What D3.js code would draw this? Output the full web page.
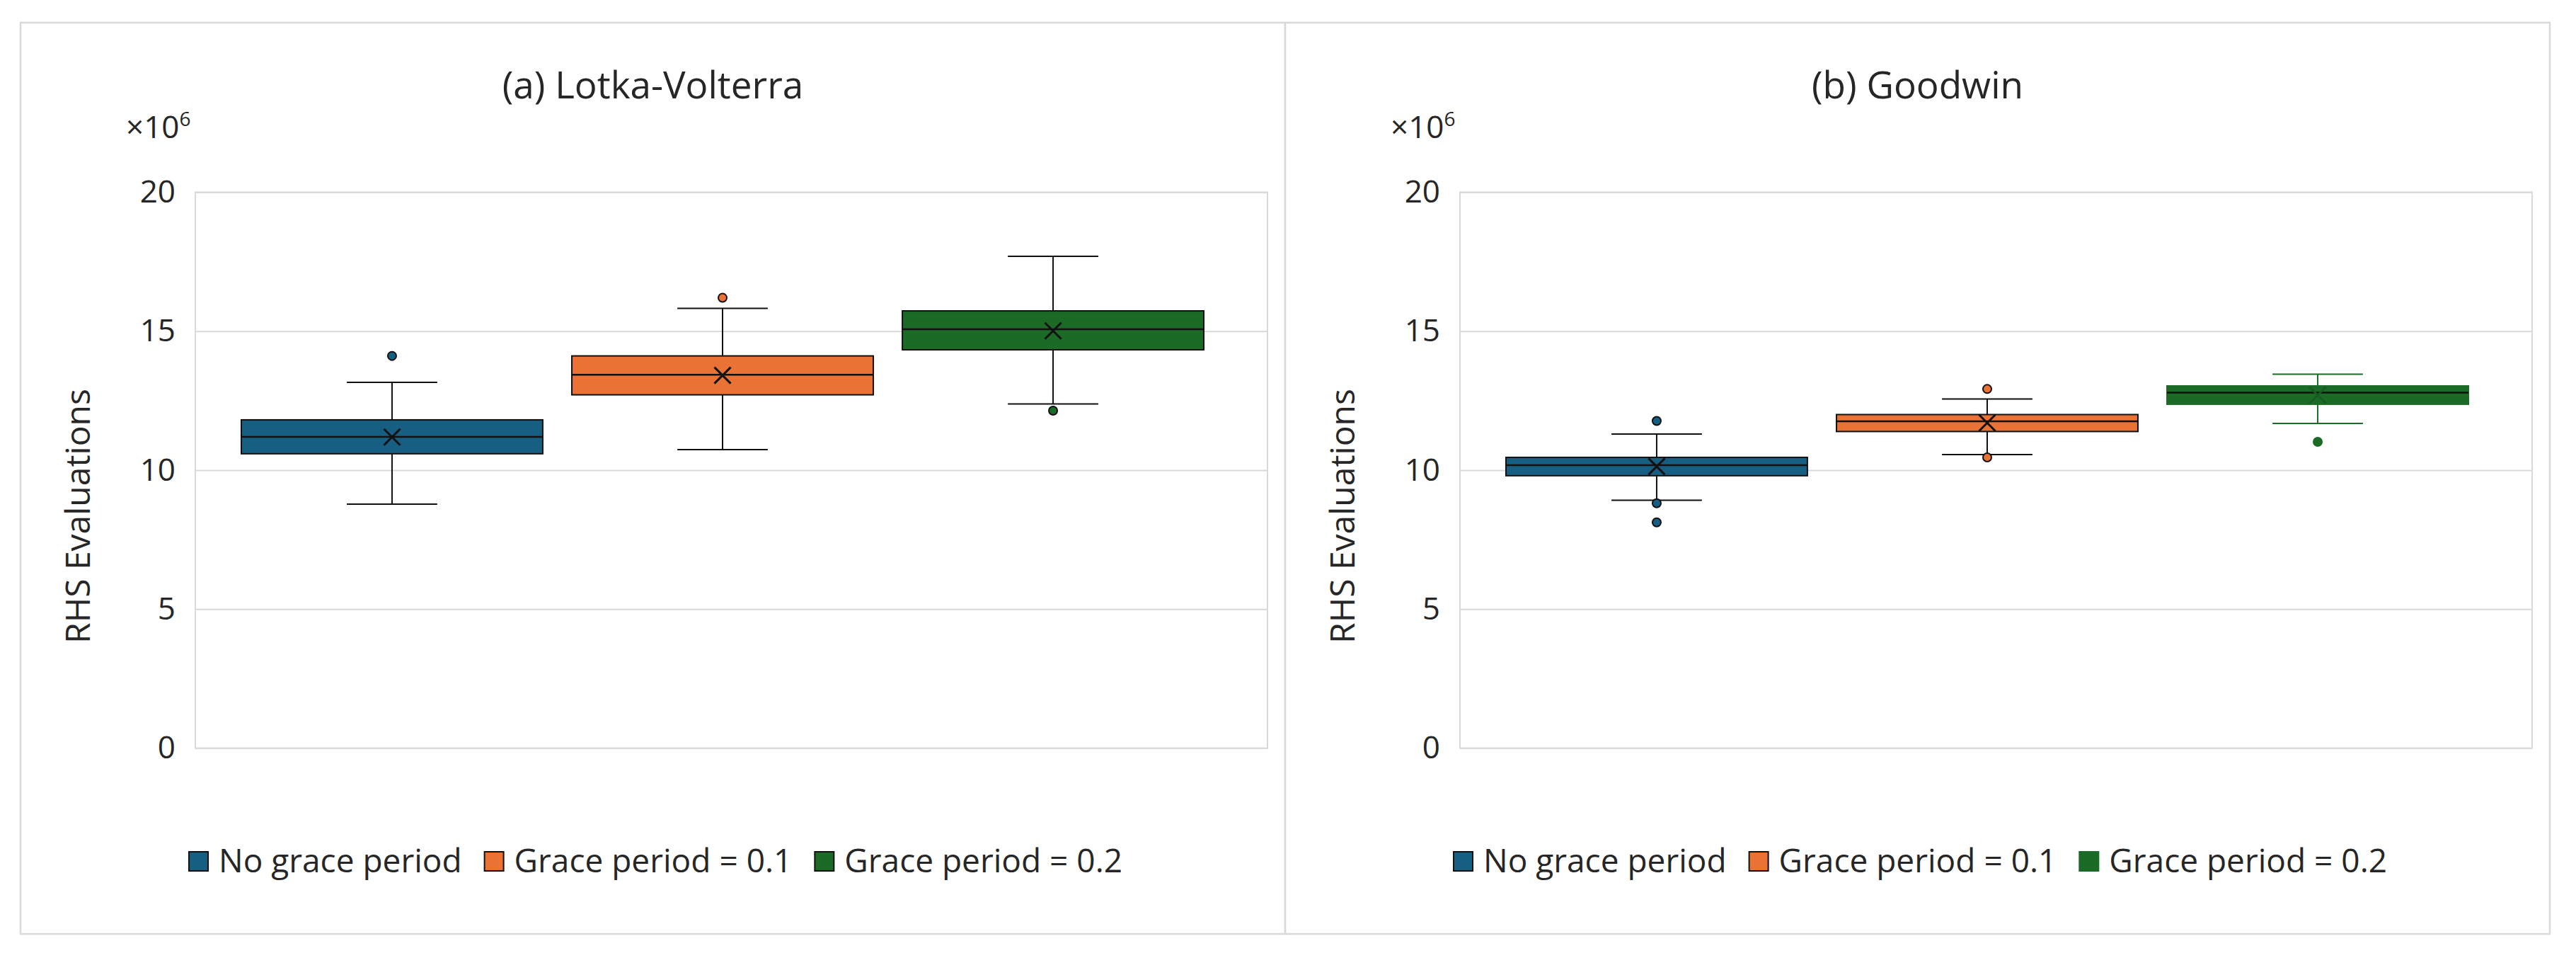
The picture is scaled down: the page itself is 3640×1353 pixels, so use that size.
<!DOCTYPE html>
<html>
<head>
<meta charset="utf-8">
<script src="https://cdn.jsdelivr.net/npm/d3@7/dist/d3.min.js"></script>
<style>
  body { margin: 0; background: #fff; }
  text { font-family: "Open Sans", sans-serif; fill: #262626; }
</style>
</head>
<body>
<div id="chart"></div>
<script>
// series + panel names
var seriesNames = ["No grace period", "Grace period = 0.1", "Grace period = 0.2"];
var seriesColors = ["#175f82", "#e97234", "#1b6b27"];
var panelTitles = ["(a) Lotka-Volterra", "(b) Goodwin"];
var yTicks = [0, 5, 10, 15, 20];
var yLabel = "RHS Evaluations";

// (a) Lotka-Volterra, values in millions
var lvLow    = [8.78, 10.74, 12.38];
var lvQ1     = [10.59, 12.71, 14.33];
var lvMedian = [11.20, 13.43, 15.07];
var lvQ3     = [11.81, 14.11, 15.73];
var lvHigh   = [13.16, 15.82, 17.69];
var lvMean   = [11.19, 13.41, 15.01];
var lvOutliers = [[14.11], [16.20], [12.14]];

// (b) Goodwin
var gwLow    = [8.92, 10.56, 11.68];
var gwQ1     = [9.80, 11.39, 12.37];
var gwMedian = [10.18, 11.76, 12.79];
var gwQ3     = [10.46, 12.00, 13.03];
var gwHigh   = [11.30, 12.56, 13.45];
var gwMean   = [10.13, 11.70, 12.70];
var gwOutliers = [[11.77, 8.81, 8.12], [12.92, 10.46], [11.02]];

function buildBoxes(low, q1, med, q3, high, mean, outl) {
  return seriesNames.map(function(name, i) {
    return { name: name, i: i, low: low[i], q1: q1[i], median: med[i],
             q3: q3[i], high: high[i], mean: mean[i], outliers: outl[i] };
  });
}

var panels = [
  { title: panelTitles[0], boxes: buildBoxes(lvLow, lvQ1, lvMedian, lvQ3, lvHigh, lvMean, lvOutliers) },
  { title: panelTitles[1], boxes: buildBoxes(gwLow, gwQ1, gwMedian, gwQ3, gwHigh, gwMean, gwOutliers) }
];

var svgWidth = 3640;
var svgHeight = 1353;

var svg = d3.select("#chart").append("svg")
  .attr("width", svgWidth).attr("height", svgHeight);

var panelLeft = 29, panelW = 1787, panelTop = 32, panelH = 1287;

panels.forEach(function(panel, p) {
  var px = panelLeft + p * panelW;
  var g = svg.append("g").attr("transform", `translate(${px}, 0)`);

  // chart frame
  g.append("rect")
    .attr("x", 0).attr("y", panelTop)
    .attr("width", panelW).attr("height", panelH)
    .attr("fill", "#fff").attr("stroke", "#d9d9d9").attr("stroke-width", 2.5);

  var plotLeft = 247, plotRight = 1762, plotTop = 271.4, plotBottom = 1056.6;

  var y = d3.scaleLinear().domain([0, 20]).range([plotBottom, plotTop]);
  var x = d3.scaleBand()
    .domain(seriesNames)
    .range([plotLeft + 65, plotRight - 90])
    .paddingInner(0.088)
    .paddingOuter(0);

  // gridlines
  var grid = d3.axisLeft(y).tickValues(yTicks).tickSize(-(plotRight - plotLeft)).tickFormat("");
  g.append("g")
    .attr("transform", `translate(${plotLeft}, 0)`)
    .call(grid)
    .call(function(s) {
      s.select(".domain").remove();
      s.selectAll("line").attr("stroke", "#d9d9d9").attr("stroke-width", 2);
    });

  // plot area edges
  g.append("rect")
    .attr("x", plotLeft).attr("y", plotTop)
    .attr("width", plotRight - plotLeft).attr("height", plotBottom - plotTop)
    .attr("fill", "none").attr("stroke", "#d9d9d9").attr("stroke-width", 2);

  // tick labels
  var axis = d3.axisLeft(y).tickValues(yTicks).tickSize(0).tickPadding(28);
  g.append("g")
    .attr("transform", `translate(${plotLeft}, 0)`)
    .call(axis)
    .call(function(s) {
      s.select(".domain").remove();
      s.selectAll("text")
        .style("font-family", '"Open Sans", sans-serif')
        .style("font-size", "44px")
        .attr("fill", "#262626");
    });

  // x10^6 unit label
  var unit = g.append("text").attr("x", 149).attr("y", 195).style("font-size", "44px");
  unit.append("tspan").text("×10");
  unit.append("tspan").attr("dy", -17).style("font-size", "28px").text("6");

  // title
  g.append("text")
    .attr("x", panelW / 2).attr("y", 139)
    .attr("text-anchor", "middle")
    .style("font-size", "53px")
    .text(panel.title);

  // y axis title
  g.append("text")
    .attr("transform", `translate(${98}, ${729}) rotate(-90)`)
    .attr("text-anchor", "middle")
    .style("font-size", "48px")
    .text(yLabel);

  // boxes
  var boxG = g.selectAll(".box").data(panel.boxes).enter().append("g").attr("class", "box");

  // green box on Goodwin panel is drawn without black outline
  function edge(d) { return (p === 1 && d.i === 2) ? seriesColors[2] : "#111"; }

  var cx = function(d) { return x(d.name) + x.bandwidth() / 2; };
  var capW = x.bandwidth() * 0.3;

  boxG.append("line")
    .attr("x1", cx).attr("x2", cx)
    .attr("y1", d => y(d.high)).attr("y2", d => y(d.q3))
    .attr("stroke", edge).attr("stroke-width", 2);
  boxG.append("line")
    .attr("x1", cx).attr("x2", cx)
    .attr("y1", d => y(d.q1)).attr("y2", d => y(d.low))
    .attr("stroke", edge).attr("stroke-width", 2);
  boxG.append("line")
    .attr("x1", d => cx(d) - capW / 2).attr("x2", d => cx(d) + capW / 2)
    .attr("y1", d => y(d.high)).attr("y2", d => y(d.high))
    .attr("stroke", edge).attr("stroke-width", 2);
  boxG.append("line")
    .attr("x1", d => cx(d) - capW / 2).attr("x2", d => cx(d) + capW / 2)
    .attr("y1", d => y(d.low)).attr("y2", d => y(d.low))
    .attr("stroke", edge).attr("stroke-width", 2);

  boxG.append("rect")
    .attr("x", d => x(d.name))
    .attr("y", d => y(d.q3))
    .attr("width", x.bandwidth())
    .attr("height", d => y(d.q1) - y(d.q3))
    .attr("fill", d => seriesColors[d.i])
    .attr("stroke", edge).attr("stroke-width", 2);

  boxG.append("line")
    .attr("x1", d => x(d.name)).attr("x2", d => x(d.name) + x.bandwidth())
    .attr("y1", d => y(d.median)).attr("y2", d => y(d.median))
    .attr("stroke", "#111").attr("stroke-width", 2.5);

  // mean marker (x)
  boxG.append("path")
    .attr("d", function(d) {
      var mx = cx(d), my = y(d.mean), s = 11.5;
      return `M${mx - s},${my - s}L${mx + s},${my + s}M${mx - s},${my + s}L${mx + s},${my - s}`;
    })
    .attr("stroke", d => (p === 1 && d.i === 2) ? "#175a22" : "#111")
    .attr("stroke-width", 3).attr("fill", "none");

  // outliers
  boxG.selectAll(".outlier")
    .data(d => d.outliers.map(v => ({ v: v, d: d })))
    .enter().append("circle")
    .attr("class", "outlier")
    .attr("cx", o => cx(o.d))
    .attr("cy", o => y(o.v))
    .attr("r", 6)
    .attr("fill", o => seriesColors[o.d.i])
    .attr("stroke", o => edge(o.d)).attr("stroke-width", 2);

  // legend
  var legend = g.append("g").attr("class", "legend");
  var lx = 238;
  var items = legend.selectAll(".item").data(seriesNames).enter().append("g").attr("class", "item");
  items.append("rect")
    .attr("y", 1203).attr("width", 27).attr("height", 27)
    .attr("fill", (d, i) => seriesColors[i])
    .attr("stroke", (d, i) => (p === 1 && i === 2) ? seriesColors[2] : "#111")
    .attr("stroke-width", 2);
  items.append("text")
    .attr("x", 42).attr("y", 1232)
    .style("font-size", "46px")
    .text(d => d);
  // lay items out side by side using measured text widths
  items.each(function() {
    var w = this.getBBox().width;
    d3.select(this).attr("transform", `translate(${lx}, 0)`);
    lx += w + 32;
  });
});
</script>
</body>
</html>
